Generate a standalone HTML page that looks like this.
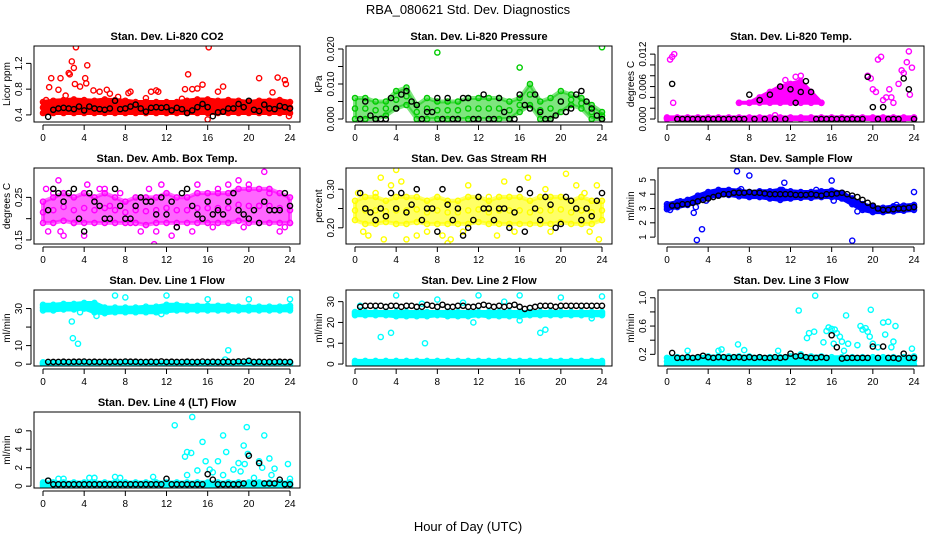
<!DOCTYPE html>
<html><head><meta charset="utf-8"><style>
html,body{margin:0;padding:0;background:#fff;}
svg{display:block;font-family:"Liberation Sans",Arial,sans-serif;}
</style></head><body>
<svg id="chart" width="936" height="540" viewBox="0 0 936 540" xmlns="http://www.w3.org/2000/svg">
<rect width="936" height="540" fill="#fff"/>
<text x="468" y="14" text-anchor="middle" font-size="13">RBA_080621  Std. Dev. Diagnostics</text>
<text x="468" y="531" text-anchor="middle" font-size="13">Hour of Day (UTC)</text>
</svg>
<script>
// shared x values
const hoursHalf = []; for (let i = 1; i <= 48; i++) hoursHalf.push(i / 2);
const hoursInt = []; for (let i = 0; i <= 24; i++) hoursInt.push(i);
const xTicks = [0, 4, 8, 12, 16, 20, 24];

// Panel 1 CO2
const co2BandLo = [0.43,0.43,0.43,0.43,0.43,0.43,0.43,0.43,0.43,0.43,0.43,0.43,0.43,0.43,0.43,0.43,0.43,0.43,0.43,0.43,0.43,0.43,0.43,0.43,0.43];
const co2BandHi = [0.6,0.62,0.63,0.64,0.63,0.62,0.64,0.63,0.62,0.6,0.6,0.6,0.6,0.6,0.62,0.64,0.64,0.62,0.63,0.62,0.6,0.62,0.62,0.63,0.6];
const co2OutX = [0.3,0.6,0.8,1.5,1.7,2.2,2.5,2.6,2.8,3,3.1,3.2,3.6,4.1,4.2,4.3,4.9,5.5,6.2,6.5,7.3,8.3,8.5,10,10.5,11,11.2,13.5,13.8,14.1,14.5,15,15.5,16.1,16,17.5,17,21,22.3,22.8,23.5,23.6,23.9];
const co2OutY = [0.63,0.83,0.97,0.79,0.97,0.7,1.05,1.03,1.23,1.13,0.88,1.45,0.84,0.97,0.89,1.17,0.78,0.76,0.79,0.73,0.68,0.74,0.76,0.66,0.76,0.78,0.76,0.65,0.8,1.03,0.8,0.81,0.87,1.45,0.33,0.84,0.76,0.97,0.75,0.98,0.94,0.88,0.38];
const co2Black = [0.37,0.48,0.5,0.51,0.5,0.49,0.53,0.47,0.53,0.5,0.49,0.48,0.5,0.62,0.49,0.5,0.53,0.56,0.5,0.45,0.51,0.52,0.51,0.52,0.47,0.51,0.49,0.43,0.47,0.52,0.57,0.52,0.38,0.44,0.45,0.5,0.5,0.57,0.52,0.62,0.48,0.46,0.56,0.5,0.49,0.54,0.52,0.5];

// Panel 2 Pressure
const presBandLo = [0,0,0,0.001,0.003,0.004,0,0,0,0,0,0,0,0,0,0,0.002,0.004,0,0,0.002,0.004,0.003,0,0];
const presBandHi = [0.006,0.006,0.005,0.005,0.008,0.009,0.004,0.006,0.005,0.005,0.005,0.006,0.006,0.006,0.006,0.005,0.006,0.01,0.005,0.006,0.008,0.007,0.006,0.004,0.002];
const presOutX = [8,16,24];
const presOutY = [0.019,0.0147,0.0205];
const presBlack = [0,0.005,0.001,0,0,0,0.006,0.003,0.007,0.008,0.005,0.004,0,0.002,0.002,0.006,0,0.006,0,0,0.006,0.006,0,0,0.007,0,0,0.006,0.002,0,0,0.007,0.004,0.003,0.007,0.002,0,0,0.001,0.005,0.002,0.003,0.007,0.008,0.005,0.003,0.001,0];

// Panel 3 Temp
const tempBandLo = [0,0,0,0,0,0,0,0,0,0,0,0,0,0,0,0,0,0,0,0,0,0,0,0,0];
const tempBandHi = [0.0003,0.0003,0.0003,0.0003,0.0003,0.0003,0.0003,0.0003,0.0003,0.0003,0.0003,0.0003,0.0003,0.0003,0.0003,0.0003,0.0003,0.0003,0.0003,0.0003,0.0003,0.0003,0.0003,0.0003,0.0003];
const tempHumpLo = [null,null,null,null,null,null,null,0.003,0.003,0.003,0.003,0.003,0.003,0.003,0.003,0.003,null,null,null,null,null,null,null,null,null];
const tempHumpHi = [null,null,null,null,null,null,null,0.003,0.003,0.004,0.005,0.006,0.0065,0.007,0.005,0.003,null,null,null,null,null,null,null,null,null];
const tempOutX = [0.3,0.5,0.7,0.6,19.5,19.8,20,20.3,20.5,20.8,21,21.3,21.6,21.8,22,22.5,22.8,23,23.3,23.5,23.6,23.8,13,10.5,12.5,11.5];
const tempOutY = [0.011,0.0115,0.012,0.003,0.008,0.0075,0.0055,0.005,0.011,0.0115,0.0035,0.004,0.0055,0.004,0.003,0.0065,0.009,0.0085,0.0105,0.0125,0.0045,0.0095,0.008,0.0007,0.0078,0.0072];
const tempBlack = [0.0065,0,0,0,0,0,0,0,0,0,0,0,0,0,0,0.0045,0,0.0035,0,0.0045,0,0.006,0,0.0055,0.003,0.005,0.007,0.005,0,0,0,0,0,0,0,0,0,0,0.0078,0.0022,0,0.0022,0,0,0,0.0075,0.0055,0];

// Panel 4 Amb box temp
const ambBandLo = [0.19,0.19,0.195,0.19,0.19,0.19,0.19,0.19,0.19,0.19,0.185,0.19,0.19,0.19,0.19,0.19,0.19,0.19,0.19,0.195,0.19,0.19,0.19,0.19,0.19];
const ambBandHi = [0.24,0.25,0.26,0.25,0.26,0.25,0.26,0.25,0.24,0.25,0.25,0.25,0.26,0.25,0.25,0.26,0.26,0.26,0.26,0.27,0.27,0.27,0.27,0.26,0.25];
const ambOutX = [0.3,0.5,1,1.5,1.7,2,3,4,4.3,5.5,6.5,7.5,8.5,9.5,10.3,10.8,11,11.5,13,14.5,15,17,18,19,19.5,20,21,21.5,22,23,23.5,24,12.5,16.5,6];
const ambOutY = [0.27,0.17,0.26,0.29,0.17,0.16,0.19,0.16,0.28,0.27,0.23,0.26,0.19,0.17,0.27,0.14,0.17,0.28,0.18,0.17,0.28,0.27,0.28,0.29,0.18,0.28,0.23,0.31,0.26,0.17,0.18,0.19,0.16,0.18,0.27];
const ambBlack = [0.22,0.27,0.26,0.24,0.26,0.27,0.2,0.17,0.26,0.24,0.23,0.2,0.2,0.27,0.23,0.2,0.2,0.23,0.25,0.24,0.24,0.21,0.25,0.21,0.24,0.18,0.26,0.27,0.23,0.21,0.2,0.24,0.21,0.22,0.21,0.24,0.26,0.22,0.21,0.2,0.22,0.19,0.24,0.22,0.22,0.22,0.26,0.23];

// Panel 5 RH
const rhBandLo = [0.22,0.21,0.21,0.215,0.21,0.21,0.215,0.21,0.21,0.21,0.21,0.21,0.215,0.21,0.21,0.21,0.21,0.21,0.21,0.21,0.215,0.21,0.21,0.21,0.22];
const rhBandHi = [0.27,0.28,0.28,0.27,0.28,0.28,0.28,0.27,0.28,0.27,0.27,0.28,0.28,0.27,0.28,0.28,0.28,0.27,0.28,0.28,0.28,0.27,0.28,0.27,0.27];
const rhOutX = [0.3,0.8,1.3,2,2.5,2.8,3.5,4,4.5,5,6,7,8.5,9,9.3,10.5,11,13,14.5,15.5,16.8,18.5,19,20.5,21.5,22.8,23.5,23.7,22.3,13.8];
const rhOutY = [0.29,0.19,0.18,0.29,0.33,0.17,0.31,0.35,0.32,0.17,0.18,0.19,0.18,0.16,0.17,0.19,0.31,0.28,0.32,0.19,0.33,0.3,0.19,0.34,0.31,0.19,0.31,0.17,0.29,0.18];
const rhBlack = [0.29,0.25,0.24,0.22,0.25,0.23,0.29,0.25,0.29,0.24,0.26,0.3,0.22,0.25,0.25,0.19,0.3,0.26,0.22,0.25,0.18,0.2,0.22,0.28,0.25,0.25,0.22,0.25,0.25,0.2,0.24,0.3,0.19,0.29,0.25,0.22,0.28,0.26,0.2,0.21,0.28,0.27,0.25,0.22,0.25,0.23,0.27,0.29];

// Panel 6 Sample flow
const sfBandLo = [2.95,3.1,3.25,3.5,3.8,3.9,3.95,3.85,3.8,3.8,3.7,3.6,3.7,3.75,3.75,3.8,3.8,3.7,3.3,2.9,2.75,2.75,2.8,2.85,2.9];
const sfBandHi = [3.3,3.45,3.6,3.9,4.15,4.3,4.3,4.25,4.15,4.2,4.2,4.3,4.2,4.15,4.15,4.2,4.25,4.1,3.7,3.3,3.1,3.05,3.15,3.2,3.25];
const sfOutX = [0.3,1.3,2.6,2.8,2.9,3.4,3.8,6.8,7.2,8,11.2,11.4,16,16.2,18,18.5,20,22.3,24,14.5];
const sfOutY = [2.9,3.5,2.7,3.1,0.8,1.55,3.55,5.6,4.35,5.3,4.3,4.8,4.95,3.55,0.75,2.8,3.2,3.25,4.15,4.3];
const sfBlack = [3.2,3.2,3.3,3.3,3.4,3.5,3.6,3.7,3.8,3.9,4.0,4.0,4.1,4.1,4.1,4.15,4.1,4.1,4.05,4.0,4.0,4.0,4.0,4.0,3.95,3.95,3.95,4.0,3.95,3.9,4.0,4.0,4.05,4.1,4.0,3.9,3.8,3.6,3.4,3.2,3.0,2.9,2.9,2.95,3.0,3.0,3.05,3.1];

// Panel 7 Line 1
const l1BandLo = [29,29,29.5,29.5,30,28,27.5,28,28,28,28,28,28.5,29,29,29,29,29,29,29,29,29,29,29,29];
const l1BandHi = [32,32,32.5,32.5,33,33,30.5,30.5,30.5,30.5,31,31,32,32,31.5,31.5,31.5,31.5,31.5,31,31,31,31,31,31.5];
const l1LowLo = [0,0,0,0,0,0,0,0,0,0,0,0,0,0,0,0,0,0,0,0,0,0,0,0,0];
const l1LowHi = [1,1,1,1,1,1,1,1,1,1,1,1,1,1,1,1,1,1,1,1,1,1,1,1,1];
const l1OutX = [2.8,2.9,3.4,3.6,5.2,7,8,12,16,17.7,18,20,24,11.5];
const l1OutY = [23,14,11,28,26,37,36,37,35,2.5,7.5,35,35,27];
const l1Black = [1.2,1.2,1.2,1.3,1.2,1.3,1.3,1.4,1.2,1.3,1.2,1.3,1.2,1.3,1.2,1.4,1.3,1.3,1.2,1.2,1.3,1.2,1.5,1.2,1.3,1.2,1.2,1.3,1.2,1.2,1.4,1.2,1.3,1.2,1.2,1.3,1.2,1.5,1.4,1.8,1.2,1.3,1.2,1.2,1.2,1.3,1.2,1.2];

// Panel 8 Line 2
const l2BandLo = [23.5,23.5,23.5,23.5,23,23,23,23,23.5,23,23,23,23.5,23,23,23,23,23.5,23.5,23.5,23.5,23.5,23.5,23.5,23.5];
const l2BandHi = [25,25,25,25,25,25,25,25,25,25,25,25,25,25,25,25,25,25,25,25,25,25,25,25,25];
const l2LowLo = [0,0,0,0,0,0,0,0,0,0,0,0,0,0,0,0,0,0,0,0,0,0,0,0,0];
const l2LowHi = [1.5,1.5,1.5,1.5,1.5,1.5,1.5,1.5,1.5,1.5,1.5,1.5,1.5,1.5,1.5,1.5,1.5,1.5,1.5,1.5,1.5,1.5,1.5,1.5,1.5];
const l2OutX = [0.5,2.5,3.5,4,6.8,6.5,8,11.5,12,16,16,18,18.5,20,23,24,14.5,10.5];
const l2OutY = [28,13,15,33,10,29,31,20,33,33,21,15,16.5,32,22,32.5,30,29.5];
const l2Black = [27.5,28,28,28,28,27.5,28,28,27.5,28,28,27.5,27.5,28.5,28,27.5,28.5,27.5,27.5,28,28,27.5,27.5,28,28.5,28,27.5,28,27.5,28,28.5,27.5,26.5,27,27.5,28,28,28,27.5,28,28,28,28,28,28,28,28,28];

// Panel 9 Line 3
const l3BandLo = [0.05,0.05,0.05,0.05,0.05,0.05,0.05,0.05,0.05,0.05,0.05,0.05,0.05,0.05,0.05,0.05,0.05,0.05,0.05,0.05,0.05,0.05,0.05,0.05,0.05];
const l3BandHi = [0.15,0.16,0.16,0.16,0.17,0.17,0.17,0.17,0.17,0.16,0.16,0.16,0.17,0.17,0.17,0.17,0.16,0.16,0.16,0.16,0.16,0.16,0.16,0.16,0.17];
const l3OutX = [6.9,7.5,2,5,5.3,10.8,12.8,13.6,13.8,14.3,14.4,15.2,15.5,15.7,16,16.3,16.5,16.8,17,17.4,17.6,18.5,18.8,19,19.3,19.5,19.7,19.8,20.5,21,21.2,21.5,21.8,22,22.2,23.8,17.2,13,16.2,20];
const l3OutY = [0.34,0.26,0.25,0.25,0.27,0.25,0.82,0.43,0.5,0.52,1.03,0.37,0.53,0.58,0.56,0.55,0.5,0.45,0.38,0.75,0.35,0.33,0.6,0.55,0.57,0.52,0.45,0.83,0.3,0.65,0.48,0.66,0.3,0.38,0.6,0.28,0.25,0.2,0.35,0.35];
const l3Black = [0.22,0.15,0.15,0.16,0.15,0.16,0.18,0.16,0.15,0.16,0.16,0.15,0.16,0.16,0.15,0.16,0.15,0.16,0.15,0.15,0.16,0.15,0.16,0.21,0.17,0.18,0.16,0.15,0.15,0.16,0.15,0.47,0.3,0.14,0.15,0.15,0.15,0.15,0.15,0.31,0.15,0.31,0.15,0.15,0.14,0.21,0.15,0.15];

// Panel 10 Line 4
const l4BandLo = [0,0,0,0,0,0,0,0,0,0,0,0,0,0,0,0,0,0,0,0,0,0,0,0,0];
const l4BandHi = [0.4,0.4,0.4,0.4,0.4,0.4,0.4,0.4,0.4,0.4,0.4,0.4,0.4,0.4,0.4,0.4,0.4,0.4,0.4,0.4,0.4,0.4,0.4,0.4,0.4];
const l4OutX = [0.5,1.5,2,4.5,5,7,7.5,10.7,12.8,13.8,14,14.4,14.5,14,15,15.5,15.8,16.2,16.5,17,17.5,17.5,17.8,18.5,19,19.2,19.5,19.6,19.8,19.9,20.5,21,21.3,21.5,22,22.2,22.5,23.8,24];
const l4OutY = [0.6,0.8,0.8,0.9,0.9,1,0.9,1,6.6,3.2,3.7,3.6,7.5,1.2,1.7,4.8,2.7,1.8,1.5,2.7,5.5,1.2,3.7,1.8,2.5,1.6,4.4,2.4,6.4,3.5,0.9,2.7,2,5.5,3,1.2,1.9,2.4,0.8];
const l4Black = [0.6,0.2,0.2,0.2,0.2,0.2,0.2,0.2,0.2,0.2,0.2,0.2,0.2,0.2,0.2,0.2,0.2,0.2,0.2,0.2,0.2,0.2,0.2,0.8,0.2,0.2,0.2,0.2,0.2,0.2,0.2,1.3,0.7,0.2,0.2,0.2,0.2,0.2,0.3,3.3,0.3,2.5,0.3,0.3,0.3,0.7,0.2,0.2];

const panels = [
 {name:'co2', title:'Stan. Dev. Li-820 CO2', ylab:'Licor ppm', lo:0.29, hi:1.47, ticks:[0.4,0.8,1.2], labels:['0.4','0.8','1.2'], color:'#ff0000', op:1, bands:[[co2BandLo,co2BandHi]], ox:co2OutX, oy:co2OutY, black:co2Black},
 {name:'pressure', title:'Stan. Dev. Li-820 Pressure', ylab:'kPa', lo:-0.00086, hi:0.02086, ticks:[0,0.005,0.01,0.015,0.02], labels:['0.000','','0.010','','0.020'], color:'#00cc00', op:0.5, bands:[[presBandLo,presBandHi]], ox:presOutX, oy:presOutY, black:presBlack},
 {name:'temp', title:'Stan. Dev. Li-820 Temp.', ylab:'degrees C', lo:-0.00055, hi:0.0135, ticks:[0,0.002,0.004,0.006,0.008,0.01,0.012], labels:['0.000','','','0.006','','','0.012'], color:'#ff00ff', op:1, bands:[[tempBandLo,tempBandHi],[tempHumpLo,tempHumpHi]], ox:tempOutX, oy:tempOutY, black:tempBlack},
 {name:'amb-box-temp', title:'Stan. Dev. Amb. Box Temp.', ylab:'degrees C', lo:0.1405, hi:0.319, ticks:[0.15,0.2,0.25], labels:['0.15','','0.25'], color:'#ff00ff', op:0.6, bands:[[ambBandLo,ambBandHi]], ox:ambOutX, oy:ambOutY, black:ambBlack},
 {name:'gas-rh', title:'Stan. Dev. Gas Stream RH', ylab:'percent', lo:0.158, hi:0.355, ticks:[0.2,0.25,0.3], labels:['0.20','','0.30'], color:'#ffff00', op:0.6, bands:[[rhBandLo,rhBandHi]], ox:rhOutX, oy:rhOutY, black:rhBlack},
 {name:'sample-flow', title:'Stan. Dev. Sample Flow', ylab:'ml/min', lo:0.52, hi:5.83, ticks:[1,2,3,4,5], labels:['1','2','3','4','5'], color:'#0000ff', op:1, bands:[[sfBandLo,sfBandHi]], ox:sfOutX, oy:sfOutY, black:sfBlack},
 {name:'line1-flow', title:'Stan. Dev. Line 1 Flow', ylab:'ml/min', lo:-1, hi:40, ticks:[0,10,20,30], labels:['0','10','','30'], color:'#00ffff', op:1, bands:[[l1BandLo,l1BandHi],[l1LowLo,l1LowHi]], ox:l1OutX, oy:l1OutY, black:l1Black},
 {name:'line2-flow', title:'Stan. Dev. Line 2 Flow', ylab:'ml/min', lo:-0.94, hi:35.6, ticks:[0,10,20,30], labels:['0','10','20','30'], color:'#00ffff', op:1, bands:[[l2BandLo,l2BandHi],[l2LowLo,l2LowHi]], ox:l2OutX, oy:l2OutY, black:l2Black},
 {name:'line3-flow', title:'Stan. Dev. Line 3 Flow', ylab:'ml/min', lo:0.035, hi:1.11, ticks:[0.2,0.4,0.6,0.8,1.0], labels:['0.2','','0.6','','1.0'], color:'#00ffff', op:1, bands:[[l3BandLo,l3BandHi]], ox:l3OutX, oy:l3OutY, black:l3Black},
 {name:'line4-flow', title:'Stan. Dev. Line 4 (LT) Flow', ylab:'ml/min', lo:-0.2, hi:8.04, ticks:[0,2,4,6], labels:['0','2','4','6'], color:'#00ffff', op:1, bands:[[l4BandLo,l4BandHi]], ox:l4OutX, oy:l4OutY, black:l4Black}
];

const NS = 'http://www.w3.org/2000/svg';
const svg = document.getElementById('chart');
function mk(tag, attrs, parent) {
  const e = document.createElementNS(NS, tag);
  for (const k in attrs) e.setAttribute(k, attrs[k]);
  parent.appendChild(e);
  return e;
}

panels.forEach((p, idx) => {
  const col = idx % 3, row = Math.floor(idx / 3);
  const L = 34 + 312 * col, R = L + 266;
  const T = 46 + 122 * row, B = T + 76;
  const xs = h => (L + 9) + h / 24 * 247;
  const ys = v => B - (v - p.lo) / (p.hi - p.lo) * (B - T);

  const g = mk('g', {}, svg);
  
  

  const t = mk('text', {x: (L + R) / 2, y: T - 6, 'text-anchor': 'middle', 'font-size': 11, 'font-weight': 'bold'}, g);
  t.textContent = p.title;
  
  

  const clip = mk('clipPath', {id: 'clip' + idx}, g);
  mk('rect', {x: L, y: T, width: R - L, height: B - T}, clip);
  const marks = mk('g', {'clip-path': 'url(#clip' + idx + ')'}, g);
  
  

  p.bands.forEach(([lo, hi]) => {
    const top = [], bot = [];
    hoursInt.forEach((h, i) => {
      if (lo[i] === null || hi[i] === null) return;
      top.push(xs(h).toFixed(1) + ',' + ys(hi[i]).toFixed(1));
      bot.unshift(xs(h).toFixed(1) + ',' + ys(lo[i]).toFixed(1));
    });
    const poly = mk('polygon', {points: top.concat(bot).join(' '), fill: p.color, 'fill-opacity': p.op, stroke: p.color, 'stroke-opacity': p.op, 'stroke-width': 4, 'stroke-linejoin': 'round'}, marks);
    
    
    hoursInt.forEach((h, i) => {
      if (lo[i] === null) return;
      [lo[i], hi[i], (lo[i] + hi[i]) / 2].forEach(v => {
        const c = mk('circle', {cx: xs(h), cy: ys(v), r: 2.6, fill: 'none', stroke: p.color, 'stroke-width': 1.4}, marks);
        
        
      });
    });
  });
  p.ox.forEach((x, i) => {
    const c = mk('circle', {cx: xs(x), cy: ys(p.oy[i]), r: 2.6, fill: 'none', stroke: p.color, 'stroke-width': 1.4}, marks);
    
    
  });
  p.black.forEach((v, i) => {
    const c = mk('circle', {cx: xs(hoursHalf[i]), cy: ys(v), r: 2.6, fill: 'none', stroke: '#000', 'stroke-width': 1.4}, marks);
    
    
  });

  const box = mk('rect', {x: L, y: T, width: R - L, height: B - T, fill: 'none', stroke: '#000', 'stroke-width': 1}, g);
  
  

  const xa = mk('g', {}, g);
  
  
  mk('line', {x1: xs(0), x2: xs(24), y1: B + 3, y2: B + 3, stroke: '#000'}, xa);
  xTicks.forEach(h => {
    mk('line', {x1: xs(h), x2: xs(h), y1: B + 3, y2: B + 8, stroke: '#000'}, xa);
    const tl = mk('text', {x: xs(h), y: B + 19, 'text-anchor': 'middle', 'font-size': 10}, xa);
    tl.textContent = h;
    
    
  });
  const ya = mk('g', {}, g);
  
  
  const yl = L - 3;
  mk('line', {x1: yl, x2: yl, y1: ys(p.ticks[0]), y2: ys(p.ticks[p.ticks.length - 1]), stroke: '#000'}, ya);
  p.ticks.forEach((v, i) => {
    mk('line', {x1: yl - 5, x2: yl, y1: ys(v), y2: ys(v), stroke: '#000'}, ya);
    if (p.labels[i]) {
      const tl = mk('text', {x: yl - 9, y: ys(v), 'text-anchor': 'middle', 'font-size': 10, transform: 'rotate(-90 ' + (yl - 9) + ' ' + ys(v) + ')'}, ya);
      tl.textContent = p.labels[i];
      
      
    }
  });
  const cy = (T + B) / 2;
  const yt = mk('text', {x: L - 24, y: cy, 'text-anchor': 'middle', 'font-size': 10, transform: 'rotate(-90 ' + (L - 24) + ' ' + cy + ')'}, ya);
  yt.textContent = p.ylab;
  
  
});
</script>
</body></html>
